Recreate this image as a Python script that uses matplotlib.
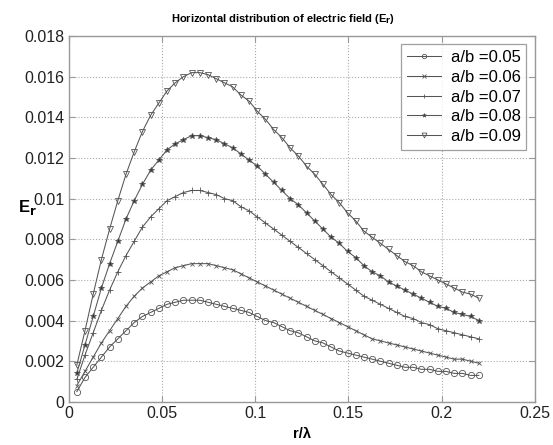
import matplotlib
matplotlib.use('Agg')
import matplotlib.pyplot as plt
import numpy as np

plt.rcParams['font.family'] = ['Liberation Sans', 'DejaVu Sans']

# r/lambda sample points (step 0.0044)
r_lambda = [0.0044, 0.0088, 0.0132, 0.0176, 0.0220, 0.0264, 0.0308, 0.0352, 0.0396, 0.0440,
            0.0484, 0.0528, 0.0572, 0.0616, 0.0660, 0.0704, 0.0748, 0.0792, 0.0836, 0.0880,
            0.0924, 0.0968, 0.1012, 0.1056, 0.1100, 0.1144, 0.1188, 0.1232, 0.1276, 0.1320,
            0.1364, 0.1408, 0.1452, 0.1496, 0.1540, 0.1584, 0.1628, 0.1672, 0.1716, 0.1760,
            0.1804, 0.1848, 0.1892, 0.1936, 0.1980, 0.2024, 0.2068, 0.2112, 0.2156, 0.2200]

er_005 = [0.0005, 0.0012, 0.0017, 0.0022, 0.0027, 0.0031, 0.0035, 0.0039, 0.0042, 0.0044,
          0.0046, 0.0048, 0.0049, 0.0050, 0.0050, 0.0050, 0.0049, 0.0048, 0.0047, 0.0046,
          0.0045, 0.0044, 0.0042, 0.0040, 0.0039, 0.0037, 0.0035, 0.0034, 0.0032, 0.0030,
          0.0029, 0.0027, 0.0025, 0.0024, 0.0023, 0.0022, 0.0021, 0.0020, 0.0019, 0.0018,
          0.0017, 0.0017, 0.0016, 0.0016, 0.0015, 0.0015, 0.0014, 0.0014, 0.0013, 0.0013]

er_006 = [0.0008, 0.0015, 0.0022, 0.0029, 0.0035, 0.0041, 0.0047, 0.0052, 0.0056, 0.0059,
          0.0062, 0.0064, 0.0066, 0.0067, 0.0068, 0.0068, 0.0068, 0.0067, 0.0066, 0.0065,
          0.0063, 0.0061, 0.0059, 0.0057, 0.0055, 0.0053, 0.0051, 0.0049, 0.0047, 0.0045,
          0.0043, 0.0041, 0.0039, 0.0037, 0.0035, 0.0033, 0.0031, 0.0030, 0.0029, 0.0028,
          0.0027, 0.0026, 0.0025, 0.0024, 0.0023, 0.0022, 0.0021, 0.0021, 0.0020, 0.0019]

er_007 = [0.0011, 0.0023, 0.0034, 0.0045, 0.0055, 0.0064, 0.0072, 0.0079, 0.0086, 0.0091,
          0.0095, 0.0099, 0.0101, 0.0103, 0.0104, 0.0104, 0.0103, 0.0102, 0.0100, 0.0099,
          0.0096, 0.0094, 0.0091, 0.0088, 0.0085, 0.0082, 0.0079, 0.0076, 0.0073, 0.0070,
          0.0067, 0.0064, 0.0061, 0.0058, 0.0055, 0.0052, 0.0050, 0.0048, 0.0046, 0.0044,
          0.0042, 0.0041, 0.0039, 0.0038, 0.0036, 0.0035, 0.0034, 0.0033, 0.0032, 0.0031]

er_008 = [0.0014, 0.0028, 0.0042, 0.0056, 0.0068, 0.0079, 0.0090, 0.0099, 0.0107, 0.0114,
          0.0119, 0.0124, 0.0127, 0.0129, 0.0131, 0.0131, 0.0130, 0.0129, 0.0127, 0.0125,
          0.0122, 0.0119, 0.0116, 0.0112, 0.0108, 0.0104, 0.0100, 0.0097, 0.0093, 0.0089,
          0.0085, 0.0081, 0.0078, 0.0074, 0.0071, 0.0067, 0.0064, 0.0062, 0.0059, 0.0057,
          0.0055, 0.0053, 0.0051, 0.0049, 0.0047, 0.0046, 0.0044, 0.0043, 0.0042, 0.0040]

er_009 = [0.0018, 0.0035, 0.0053, 0.0070, 0.0085, 0.0099, 0.0112, 0.0123, 0.0133, 0.0141,
          0.0147, 0.0153, 0.0157, 0.0160, 0.0162, 0.0162, 0.0161, 0.0159, 0.0157, 0.0155,
          0.0151, 0.0148, 0.0143, 0.0139, 0.0134, 0.0130, 0.0125, 0.0121, 0.0116, 0.0112,
          0.0107, 0.0102, 0.0098, 0.0093, 0.0089, 0.0084, 0.0081, 0.0078, 0.0075, 0.0072,
          0.0069, 0.0067, 0.0064, 0.0062, 0.0060, 0.0058, 0.0056, 0.0054, 0.0053, 0.0051]

labels = ['a/b =0.05', 'a/b =0.06', 'a/b =0.07', 'a/b =0.08', 'a/b =0.09']
x_ticks = [0, 0.05, 0.1, 0.15, 0.2, 0.25]
x_tick_labels = ['0', '0.05', '0.1', '0.15', '0.2', '0.25']
y_ticks = [0, 0.002, 0.004, 0.006, 0.008, 0.01, 0.012, 0.014, 0.016, 0.018]
y_tick_labels = ['0', '0.002', '0.004', '0.006', '0.008', '0.01', '0.012', '0.014', '0.016', '0.018']

series = [er_005, er_006, er_007, er_008, er_009]
markers = ['o', 'x', '+', '*', 'v']
msizes = [4.5, 3.5, 5, 4, 5]
line_col = '#555555'

fig = plt.figure(figsize=(5.53, 4.45), dpi=100)
ax = fig.add_axes([0.124, 0.097, 0.843, 0.822])

for y, m, ms, lab in zip(series, markers, msizes, labels):
    face = '#333333' if m == '*' else 'none'
    ax.plot(r_lambda, y, color=line_col, linewidth=0.75, marker=m, markersize=ms,
            markerfacecolor=face, markeredgecolor=line_col, markeredgewidth=0.6,
            label=lab)

ax.set_xlim(0, 0.25)
ax.set_ylim(0, 0.018)
ax.set_xticks(x_ticks)
ax.set_xticklabels(x_tick_labels)
ax.set_yticks(y_ticks)
ax.set_yticklabels(y_tick_labels)
ax.tick_params(direction='in', length=4, labelsize=11.5, colors='#999999',
               labelcolor='#222222', top=True, right=True, pad=3)
ax.grid(True, linestyle=':', color='#aaaaaa', linewidth=0.8)
for s in ax.spines.values():
    s.set_color('#999999')
    s.set_linewidth(1.0)

ax.set_title('Horizontal distribution of electric field (E$_\\mathbf{r}$)',
             fontsize=8, fontweight='bold', pad=10, x=0.46)
ax.set_xlabel('r/λ', fontsize=10.5, fontweight='bold', labelpad=4)
ax.set_ylabel('E$_\\mathbf{r}$', fontsize=12, fontweight='bold', rotation=0,
              ha='center', va='center')
ax.yaxis.set_label_coords(-0.088, 0.53)

leg = ax.legend(loc='upper right', fontsize=12, frameon=True, fancybox=False,
                handlelength=2.0, borderpad=0.35, labelspacing=0.28,
                handletextpad=0.6, borderaxespad=0.5, markerscale=0.7)
leg.get_frame().set_edgecolor('#888888')
leg.get_frame().set_linewidth(0.9)

plt.savefig('out.png', dpi=100)
plt.close()
